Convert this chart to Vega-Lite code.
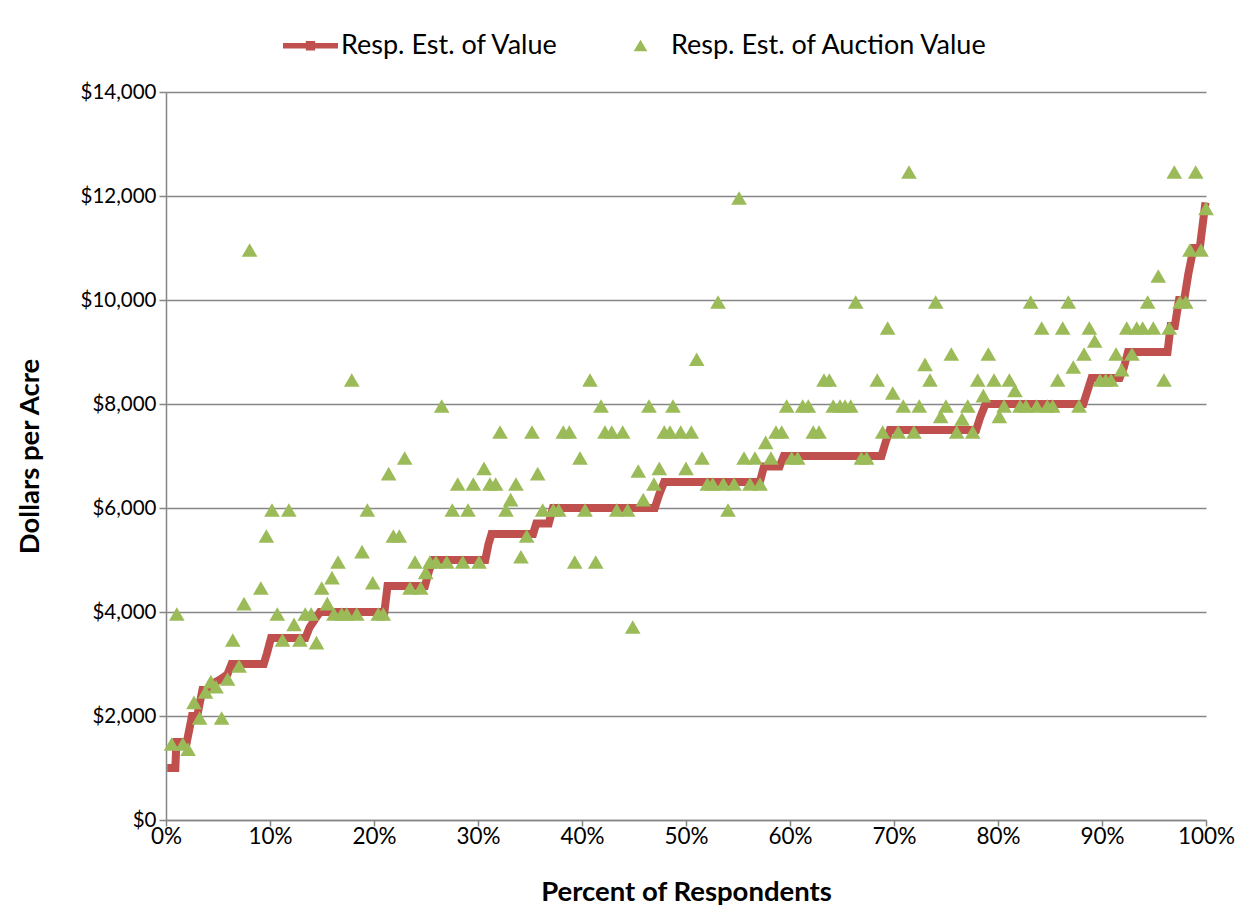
{
  "$schema": "https://vega.github.io/schema/vega-lite/v6.json",
  "width": 1040,
  "height": 728,
  "autosize": {"type": "none"},
  "padding": {"left": 166, "top": 92, "right": 47, "bottom": 92},
  "background": "white",
  "config": {
    "view": {"stroke": null},
    "font": "Lato",
    "axis": {"labelFont": "Lato", "titleFont": "Lato", "labelColor": "black", "titleColor": "black", "labelFontSize": 21, "titleFontSize": 27.5, "titleFontWeight": "bold"}
  },
  "datasets": {
    "value": [
      {"pct": 0.5, "value": 1000}, {"pct": 0.9, "value": 1000}, {"pct": 1.0, "value": 1500}, {"pct": 2.0, "value": 1500},
      {"pct": 2.5, "value": 2000}, {"pct": 3.0, "value": 2000}, {"pct": 3.5, "value": 2500}, {"pct": 4.0, "value": 2500},
      {"pct": 4.3, "value": 2600}, {"pct": 5.2, "value": 2700}, {"pct": 5.9, "value": 2800}, {"pct": 6.3, "value": 3000},
      {"pct": 9.4, "value": 3000}, {"pct": 9.7, "value": 3200}, {"pct": 10.1, "value": 3500}, {"pct": 13.4, "value": 3500},
      {"pct": 13.8, "value": 3700}, {"pct": 14.3, "value": 3850}, {"pct": 14.8, "value": 4000}, {"pct": 21.0, "value": 4000},
      {"pct": 21.3, "value": 4500}, {"pct": 24.9, "value": 4500}, {"pct": 25.3, "value": 4800}, {"pct": 25.7, "value": 5000},
      {"pct": 30.7, "value": 5000}, {"pct": 31.0, "value": 5300}, {"pct": 31.3, "value": 5500}, {"pct": 35.3, "value": 5500},
      {"pct": 35.6, "value": 5700}, {"pct": 36.8, "value": 5700}, {"pct": 37.2, "value": 6000}, {"pct": 47.0, "value": 6000},
      {"pct": 47.4, "value": 6250}, {"pct": 47.9, "value": 6500}, {"pct": 57.1, "value": 6500}, {"pct": 57.5, "value": 6800},
      {"pct": 59.0, "value": 6800}, {"pct": 59.4, "value": 7000}, {"pct": 68.8, "value": 7000}, {"pct": 69.2, "value": 7270},
      {"pct": 69.6, "value": 7500}, {"pct": 77.9, "value": 7500}, {"pct": 78.3, "value": 7750}, {"pct": 78.8, "value": 8000},
      {"pct": 88.2, "value": 8000}, {"pct": 88.6, "value": 8250}, {"pct": 89.0, "value": 8500}, {"pct": 91.7, "value": 8500},
      {"pct": 92.1, "value": 8700}, {"pct": 92.5, "value": 9000}, {"pct": 96.3, "value": 9000}, {"pct": 96.6, "value": 9500},
      {"pct": 97.0, "value": 9500}, {"pct": 97.4, "value": 10000}, {"pct": 97.9, "value": 10000}, {"pct": 98.3, "value": 10500},
      {"pct": 98.8, "value": 11000}, {"pct": 99.4, "value": 11000}, {"pct": 99.9, "value": 11800}
    ],
    "auction": [
      {"pct": 0.54, "value": 1500}, {"pct": 1.04, "value": 4000}, {"pct": 1.62, "value": 1500}, {"pct": 2.12, "value": 1400},
      {"pct": 2.69, "value": 2300}, {"pct": 3.23, "value": 2000}, {"pct": 3.80, "value": 2500}, {"pct": 4.31, "value": 2700},
      {"pct": 4.81, "value": 2600}, {"pct": 5.35, "value": 2000}, {"pct": 5.92, "value": 2750}, {"pct": 6.42, "value": 3500},
      {"pct": 7.03, "value": 3000}, {"pct": 7.50, "value": 4200}, {"pct": 8.04, "value": 11000}, {"pct": 9.12, "value": 4500},
      {"pct": 9.65, "value": 5500}, {"pct": 10.19, "value": 6000}, {"pct": 10.70, "value": 4000}, {"pct": 11.20, "value": 3500},
      {"pct": 11.81, "value": 6000}, {"pct": 12.31, "value": 3800}, {"pct": 12.88, "value": 3500}, {"pct": 13.39, "value": 4000},
      {"pct": 13.96, "value": 4000}, {"pct": 14.47, "value": 3450}, {"pct": 14.97, "value": 4500}, {"pct": 15.51, "value": 4200},
      {"pct": 15.96, "value": 4700}, {"pct": 16.15, "value": 4000}, {"pct": 16.54, "value": 5000}, {"pct": 16.89, "value": 4000},
      {"pct": 17.38, "value": 4000}, {"pct": 17.86, "value": 8500}, {"pct": 18.34, "value": 4000}, {"pct": 18.85, "value": 5200},
      {"pct": 19.36, "value": 6000}, {"pct": 19.88, "value": 4600}, {"pct": 20.41, "value": 4000}, {"pct": 20.89, "value": 4000},
      {"pct": 21.41, "value": 6700}, {"pct": 21.86, "value": 5500}, {"pct": 22.43, "value": 5500}, {"pct": 22.95, "value": 7000},
      {"pct": 23.46, "value": 4500}, {"pct": 23.94, "value": 5000}, {"pct": 24.49, "value": 4500}, {"pct": 24.97, "value": 4800},
      {"pct": 25.38, "value": 5000}, {"pct": 25.96, "value": 5000}, {"pct": 26.51, "value": 8000}, {"pct": 26.99, "value": 5000},
      {"pct": 27.53, "value": 6000}, {"pct": 28.05, "value": 6500}, {"pct": 28.53, "value": 5000}, {"pct": 29.04, "value": 6000},
      {"pct": 29.55, "value": 6500}, {"pct": 30.10, "value": 5000}, {"pct": 30.58, "value": 6800}, {"pct": 31.15, "value": 6500},
      {"pct": 31.70, "value": 6500}, {"pct": 32.12, "value": 7500}, {"pct": 32.69, "value": 6000}, {"pct": 33.14, "value": 6200},
      {"pct": 33.65, "value": 6500}, {"pct": 34.13, "value": 5100}, {"pct": 34.68, "value": 5500}, {"pct": 35.19, "value": 7500},
      {"pct": 35.74, "value": 6700}, {"pct": 36.22, "value": 6000}, {"pct": 37.24, "value": 6000}, {"pct": 37.76, "value": 6000},
      {"pct": 38.20, "value": 7500}, {"pct": 38.78, "value": 7500}, {"pct": 39.30, "value": 5000}, {"pct": 39.81, "value": 7000},
      {"pct": 40.29, "value": 6000}, {"pct": 40.77, "value": 8500}, {"pct": 41.32, "value": 5000}, {"pct": 41.83, "value": 8000},
      {"pct": 42.21, "value": 7500}, {"pct": 42.86, "value": 7500}, {"pct": 43.34, "value": 6000}, {"pct": 43.91, "value": 7500},
      {"pct": 44.39, "value": 6000}, {"pct": 44.88, "value": 3750}, {"pct": 45.41, "value": 6750}, {"pct": 45.89, "value": 6200},
      {"pct": 46.44, "value": 8000}, {"pct": 46.92, "value": 6500}, {"pct": 47.43, "value": 6800}, {"pct": 47.91, "value": 7500},
      {"pct": 48.46, "value": 7500}, {"pct": 48.75, "value": 8000}, {"pct": 49.49, "value": 7500}, {"pct": 50.00, "value": 6800},
      {"pct": 50.51, "value": 7500}, {"pct": 51.03, "value": 8900}, {"pct": 51.54, "value": 7000}, {"pct": 52.05, "value": 6500},
      {"pct": 52.57, "value": 6500}, {"pct": 53.08, "value": 10000}, {"pct": 53.59, "value": 6500}, {"pct": 54.04, "value": 6000},
      {"pct": 54.62, "value": 6500}, {"pct": 55.10, "value": 12000}, {"pct": 55.58, "value": 7000}, {"pct": 56.15, "value": 6500},
      {"pct": 56.63, "value": 7000}, {"pct": 57.12, "value": 6500}, {"pct": 57.66, "value": 7300}, {"pct": 58.17, "value": 7000},
      {"pct": 58.65, "value": 7500}, {"pct": 59.20, "value": 7500}, {"pct": 59.68, "value": 8000}, {"pct": 60.16, "value": 7000},
      {"pct": 60.74, "value": 7000}, {"pct": 61.22, "value": 8000}, {"pct": 61.76, "value": 8000}, {"pct": 62.24, "value": 7500},
      {"pct": 62.79, "value": 7500}, {"pct": 63.27, "value": 8500}, {"pct": 63.78, "value": 8500}, {"pct": 64.16, "value": 8000},
      {"pct": 64.81, "value": 8000}, {"pct": 65.29, "value": 8000}, {"pct": 65.84, "value": 8000}, {"pct": 66.32, "value": 10000},
      {"pct": 66.86, "value": 7000}, {"pct": 67.37, "value": 7000}, {"pct": 68.39, "value": 8500}, {"pct": 68.91, "value": 7500},
      {"pct": 69.39, "value": 9500}, {"pct": 69.88, "value": 8250}, {"pct": 70.41, "value": 7500}, {"pct": 70.89, "value": 8000},
      {"pct": 71.44, "value": 12500}, {"pct": 71.92, "value": 7500}, {"pct": 72.43, "value": 8000}, {"pct": 72.98, "value": 8800},
      {"pct": 73.46, "value": 8500}, {"pct": 74.01, "value": 10000}, {"pct": 74.49, "value": 7800}, {"pct": 75.00, "value": 8000},
      {"pct": 75.51, "value": 9000}, {"pct": 76.03, "value": 7500}, {"pct": 76.54, "value": 7750}, {"pct": 77.09, "value": 8000},
      {"pct": 77.57, "value": 7500}, {"pct": 78.05, "value": 8500}, {"pct": 78.59, "value": 8200}, {"pct": 79.07, "value": 9000},
      {"pct": 79.62, "value": 8500}, {"pct": 80.13, "value": 7800}, {"pct": 80.58, "value": 8000}, {"pct": 81.09, "value": 8500},
      {"pct": 81.63, "value": 8300}, {"pct": 82.12, "value": 8000}, {"pct": 82.69, "value": 8000}, {"pct": 83.14, "value": 10000},
      {"pct": 83.72, "value": 8000}, {"pct": 84.20, "value": 9500}, {"pct": 84.74, "value": 8000}, {"pct": 85.26, "value": 8000},
      {"pct": 85.74, "value": 8500}, {"pct": 86.22, "value": 9500}, {"pct": 86.76, "value": 10000}, {"pct": 87.24, "value": 8750},
      {"pct": 87.79, "value": 8000}, {"pct": 88.27, "value": 9000}, {"pct": 88.78, "value": 9500}, {"pct": 89.30, "value": 9250},
      {"pct": 89.81, "value": 8500}, {"pct": 90.36, "value": 8500}, {"pct": 90.87, "value": 8500}, {"pct": 91.35, "value": 9000},
      {"pct": 91.89, "value": 8700}, {"pct": 92.38, "value": 9500}, {"pct": 92.88, "value": 9000}, {"pct": 93.34, "value": 9500},
      {"pct": 93.91, "value": 9500}, {"pct": 94.39, "value": 10000}, {"pct": 94.93, "value": 9500}, {"pct": 95.41, "value": 10500},
      {"pct": 95.96, "value": 8500}, {"pct": 96.47, "value": 9500}, {"pct": 96.95, "value": 12500}, {"pct": 97.50, "value": 10000},
      {"pct": 98.05, "value": 10000}, {"pct": 98.46, "value": 11000}, {"pct": 99.01, "value": 12500}, {"pct": 99.52, "value": 11000},
      {"pct": 100.0, "value": 11800}
    ]
  },
  "encoding": {
    "x": {
      "field": "pct", "type": "quantitative",
      "scale": {"domain": [0, 100], "nice": false, "zero": false},
      "axis": {
        "title": "Percent of Respondents", "values": [0, 10, 20, 30, 40, 50, 60, 70, 80, 90, 100],
        "labelExpr": "datum.value + '%'", "grid": false, "domainColor": "#868686", "domainWidth": 1.5,
        "tickColor": "#868686", "tickSize": 6, "tickWidth": 1.5, "labelPadding": -1, "labelFlush": false,
        "labelFontSize": 22.5, "titleY": 72, "titleBaseline": "middle"
      }
    },
    "y": {
      "field": "value", "type": "quantitative",
      "scale": {"domain": [0, 14000], "nice": false},
      "axis": {
        "title": "Dollars per Acre", "values": [0, 2000, 4000, 6000, 8000, 10000, 12000, 14000],
        "format": "$,.0f", "grid": true, "gridColor": "#868686", "gridWidth": 1.5,
        "domainColor": "#868686", "domainWidth": 1.5, "tickColor": "#868686", "tickSize": 7, "tickWidth": 1.5,
        "labelPadding": 3, "labelFontSize": 20.5, "titleX": -136, "titleY": 364, "titleAngle": -90, "titleBaseline": "middle", "titleAlign": "center"
      }
    }
  },
  "layer": [
    {
      "data": {"name": "value"},
      "mark": {"type": "line", "strokeWidth": 8, "strokeJoin": "miter", "strokeCap": "square"},
      "encoding": {
        "color": {
          "datum": "Resp. Est. of Value",
          "scale": {"domain": ["Resp. Est. of Value", "Resp. Est. of Auction Value"], "range": ["#C0504D", "#9BBB59"]},
          "legend": {
            "orient": "none", "legendX": 117, "legendY": -74, "direction": "horizontal", "title": null,
            "symbolSize": 3025, "labelFontSize": 27, "labelFont": "Lato", "labelColor": "black", "labelLimit": 0,
            "columnPadding": 54, "labelOffset": 3,
            "encode": {
              "symbols": {
                "update": {
                  "shape": {"signal": "datum.value === 'Resp. Est. of Value' ? 'M-1,-0.1H1V0.1H-1Z M-0.17,-0.17H0.17V0.17H-0.17Z' : 'M0,-0.22L0.25,0.2L-0.25,0.2Z'"},
                  "fill": {"signal": "datum.value === 'Resp. Est. of Value' ? '#C0504D' : '#9BBB59'"},
                  "stroke": {"value": "transparent"},
                  "strokeWidth": {"value": 0},
                  "opacity": {"value": 1}
                }
              }
            }
          }
        }
      }
    },
    {
      "data": {"name": "auction"},
      "mark": {"type": "point", "shape": "triangle-up", "filled": true, "size": 245, "opacity": 1, "yOffset": 2},
      "encoding": {
        "color": {
          "datum": "Resp. Est. of Auction Value",
          "scale": {"domain": ["Resp. Est. of Value", "Resp. Est. of Auction Value"], "range": ["#C0504D", "#9BBB59"]}
        }
      }
    }
  ]
}
